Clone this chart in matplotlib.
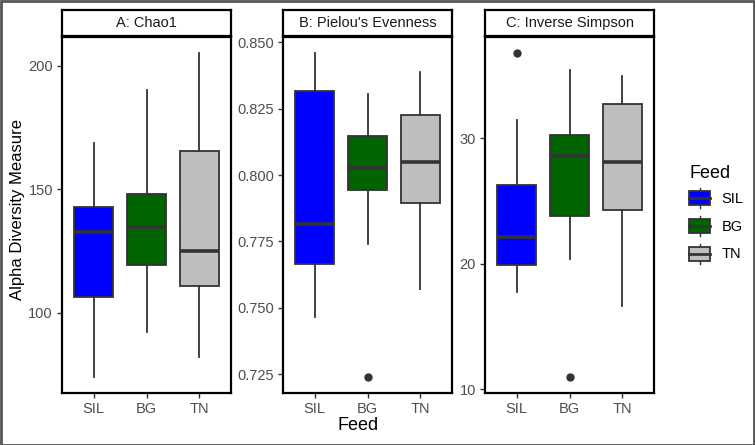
import matplotlib
matplotlib.use("Agg")
import matplotlib.pyplot as plt
from matplotlib.patches import Rectangle
from matplotlib.lines import Line2D
from matplotlib.legend_handler import HandlerBase

plt.rcParams['font.family'] = ['Liberation Sans', 'DejaVu Sans']

# ---------------- data ----------------
groups = ["SIL", "BG", "TN"]
colors = ["#0000FF", "#006400", "#BEBEBE"]
panel_titles = ["A: Chao1", "B: Pielou's Evenness", "C: Inverse Simpson"]

chao_whislo = [74.0, 92.1, 82.0]
chao_q1 = [106.2, 119.1, 110.6]
chao_med = [132.5, 134.8, 125.0]
chao_q3 = [142.9, 147.9, 165.6]
chao_whishi = [168.8, 189.9, 205.0]
chao_fliers = [[], [], []]

piel_whislo = [0.7466, 0.7741, 0.7572]
piel_q1 = [0.7666, 0.7944, 0.7896]
piel_med = [0.7816, 0.8027, 0.8050]
piel_q3 = [0.8316, 0.8146, 0.8225]
piel_whishi = [0.8459, 0.8304, 0.8390]
piel_fliers = [[], [0.724], []]

invs_whislo = [17.75, 20.4, 16.6]
invs_q1 = [19.9, 23.8, 24.26]
invs_med = [22.1, 28.57, 28.07]
invs_q3 = [26.3, 30.27, 32.7]
invs_whishi = [31.4, 35.4, 34.9]
invs_fliers = [[36.75], [11.0], []]

yticks_list = [[100, 150, 200],
               [0.725, 0.750, 0.775, 0.800, 0.825, 0.850],
               [10, 20, 30]]
ytick_fmt = ["{:.0f}", "{:.3f}", "{:.0f}"]

panels = [
    (chao_whislo, chao_q1, chao_med, chao_q3, chao_whishi, chao_fliers),
    (piel_whislo, piel_q1, piel_med, piel_q3, piel_whishi, piel_fliers),
    (invs_whislo, invs_q1, invs_med, invs_q3, invs_whishi, invs_fliers),
]

# ---------------- layout ----------------
W, H = 755, 445
fig = plt.figure(figsize=(W / 100, H / 100), dpi=100)
fig.patch.set_facecolor("white")

panel_left_px = [62, 283, 485]
panel_w_px = 169
top_px, bot_px = 37, 393
strip_top_px, strip_bot_px = 10, 36

edge = "#333333"
tick_col = "#4D4D4D"
fs_tick = 10.5

for i, (whislo, q1, med, q3, whishi, fliers) in enumerate(panels):
    l = panel_left_px[i] / W
    ax = fig.add_axes([l, 1 - bot_px / H, panel_w_px / W, (bot_px - top_px) / H])
    stats = []
    for j in range(3):
        stats.append(dict(med=med[j], q1=q1[j], q3=q3[j],
                          whislo=whislo[j], whishi=whishi[j],
                          fliers=fliers[j], label=groups[j]))
    bp = ax.bxp(stats, positions=[1, 2, 3], widths=0.75, patch_artist=True,
                showcaps=False,
                boxprops=dict(edgecolor=edge, linewidth=1.3),
                whiskerprops=dict(color=edge, linewidth=1.3),
                medianprops=dict(color=edge, linewidth=2.6, solid_capstyle='butt'),
                flierprops=dict(marker='o', markerfacecolor=edge,
                                markeredgecolor=edge, markersize=5))
    for patch, c in zip(bp['boxes'], colors):
        patch.set_facecolor(c)
    # y limits with ggplot-style 5% expansion
    allv = list(whislo) + list(whishi) + [v for f in fliers for v in f]
    lo, hi = min(allv), max(allv)
    pad = (hi - lo) * 0.05
    ax.set_ylim(lo - pad, hi + pad)
    ax.set_xlim(0.4, 3.6)
    ax.set_xticks([1, 2, 3])
    ax.set_xticklabels(groups)
    ax.set_yticks(yticks_list[i])
    ax.set_yticklabels([ytick_fmt[i].format(v) for v in yticks_list[i]])
    ax.tick_params(axis='both', colors=edge, labelcolor=tick_col,
                   labelsize=fs_tick, length=3.5, width=1.0, pad=3)
    for s in ax.spines.values():
        s.set_color("black")
        s.set_linewidth(1.6)
    # strip
    sax = fig.add_axes([l, 1 - strip_bot_px / H, panel_w_px / W,
                        (strip_bot_px - strip_top_px) / H])
    sax.set_xticks([])
    sax.set_yticks([])
    for s in sax.spines.values():
        s.set_color("black")
        s.set_linewidth(1.6)
    sax.text(0.5, 0.5, panel_titles[i], ha='center', va='center',
             fontsize=fs_tick, color="#1A1A1A", transform=sax.transAxes)

# axis titles
fig.text(18 / W, 1 - 209 / H, "Alpha Diversity Measure",
         rotation=90, ha='center', va='center', fontsize=12, color='black')
fig.text(((panel_left_px[0] + panel_left_px[2] + panel_w_px) / 2) / W,
         1 - 425 / H, "Feed", ha='center', va='center', fontsize=13,
         color='black')


# legend with boxplot-style keys
class BoxKeyHandler(HandlerBase):
    def create_artists(self, legend, orig_handle, xdescent, ydescent,
                       width, height, fontsize, trans):
        fc = orig_handle.get_facecolor()
        x0, y0 = -xdescent, -ydescent
        cx = x0 + width / 2
        bw = width
        bh = height * 0.58
        by = y0 + (height - bh) / 2
        wl = Line2D([cx, cx], [y0 + height * 0.08, y0 + height * 0.92],
                    color=edge, linewidth=1.0, transform=trans)
        rect = Rectangle((x0, by), bw, bh, facecolor=fc,
                         edgecolor=edge, linewidth=1.3, transform=trans)
        ml = Line2D([x0, x0 + bw], [y0 + height / 2] * 2, color=edge,
                    linewidth=2.0, transform=trans)
        return [wl, rect, ml]


handles = [Rectangle((0, 0), 1, 1, facecolor=c) for c in colors]
leg = fig.legend(handles, groups, handler_map={Rectangle: BoxKeyHandler()},
                 loc='upper left', bbox_to_anchor=(679 / W, 1 - 155 / H),
                 frameon=False, fontsize=fs_tick, title="Feed",
                 title_fontsize=13, handlelength=1.45, handleheight=2.15,
                 labelspacing=0.27, handletextpad=0.75, borderpad=0.2)
leg._legend_box.align = "left"
for t in leg.get_texts():
    t.set_color('black')

# outer frame
fig.add_artist(Rectangle((0.5 / W, 0.5 / H), 1 - 1.5 / W, 1 - 1.5 / H,
                         transform=fig.transFigure, fill=False,
                         edgecolor="#555555", linewidth=2.0))

fig.savefig("out.png", dpi=100)
